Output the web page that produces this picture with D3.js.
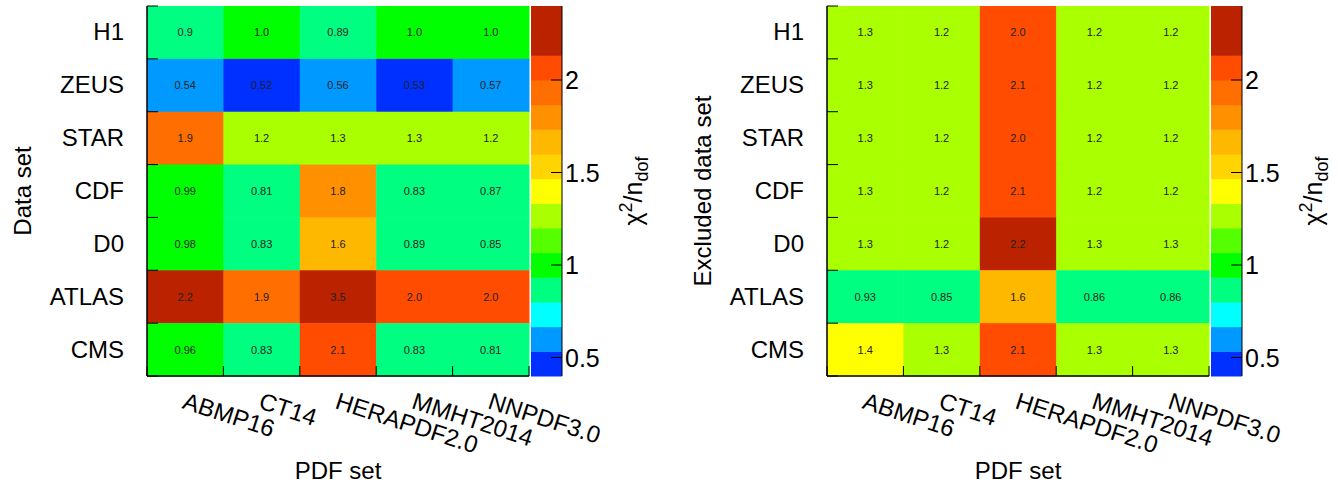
<!DOCTYPE html>
<html>
<head>
<meta charset="utf-8">
<script src="https://cdn.jsdelivr.net/npm/d3@7"></script>
<style>
  body { margin: 0; background: #fff; }
  svg text { font-family: "Liberation Sans", Arial, Helvetica, sans-serif; }
</style>
</head>
<body>
<svg id="chart" width="1339" height="485"></svg>
<script>
// ---- data ----
const dataSets = ["H1", "ZEUS", "STAR", "CDF", "D0", "ATLAS", "CMS"];
const pdfSets = ["ABMP16", "CT14", "HERAPDF2.0", "MMHT2014", "NNPDF3.0"];

// left panel: chi2/ndof per data set (rows) and PDF set (columns)
const chi2H1     = [0.9, 1.0, 0.89, 1.0, 1.0];
const chi2ZEUS   = [0.54, 0.52, 0.56, 0.53, 0.57];
const chi2STAR   = [1.9, 1.2, 1.3, 1.3, 1.2];
const chi2CDF    = [0.99, 0.81, 1.8, 0.83, 0.87];
const chi2D0     = [0.98, 0.83, 1.6, 0.89, 0.85];
const chi2ATLAS  = [2.2, 1.9, 3.5, 2.0, 2.0];
const chi2CMS    = [0.96, 0.83, 2.1, 0.83, 0.81];

// right panel: chi2/ndof with one data set excluded
const exclH1     = [1.3, 1.2, 2.0, 1.2, 1.2];
const exclZEUS   = [1.3, 1.2, 2.1, 1.2, 1.2];
const exclSTAR   = [1.3, 1.2, 2.0, 1.2, 1.2];
const exclCDF    = [1.3, 1.2, 2.1, 1.2, 1.2];
const exclD0     = [1.3, 1.2, 2.2, 1.3, 1.3];
const exclATLAS  = [0.93, 0.85, 1.6, 0.86, 0.86];
const exclCMS    = [1.4, 1.3, 2.1, 1.3, 1.3];

const colorbarTicks = [0.5, 1, 1.5, 2];
const zRange = [0.4, 2.4];
const palette = ["#0030ff", "#0099ff", "#00ffff", "#00ff80", "#00ff00",
                 "#55ff00", "#aaff00", "#ffff00", "#ffd400", "#ffb800",
                 "#ff9000", "#ff6e00", "#ff4c00", "#bb2200", "#bb2200"];

const leftMatrix = [chi2H1, chi2ZEUS, chi2STAR, chi2CDF, chi2D0, chi2ATLAS, chi2CMS];
const rightMatrix = [exclH1, exclZEUS, exclSTAR, exclCDF, exclD0, exclATLAS, exclCMS];

// ---- drawing ----
const svg = d3.select("#chart");
const nBands = palette.length;
const thresholds = d3.range(1, nBands).map(k => +(zRange[0] + k * (zRange[1] - zRange[0]) / nBands).toFixed(6));
const color = d3.scaleThreshold().domain(thresholds).range(palette);
const fmt = v => v >= 1 ? v.toFixed(1) : String(v);

function panel(opts) {
  const { x0, x1, y0, y1, matrix, yTitle, cbX, cbW, cbTitleX } = opts;
  const g = svg.append("g");
  const x = d3.scaleBand().domain(pdfSets).range([x0, x1]);
  const y = d3.scaleBand().domain(dataSets).range([y0, y1]);

  const cells = [];
  matrix.forEach((row, i) => row.forEach((v, j) => cells.push({ r: dataSets[i], c: pdfSets[j], v })));

  g.selectAll("rect.cell").data(cells).enter().append("rect")
    .attr("x", d => x(d.c)).attr("y", d => y(d.r))
    .attr("width", x.bandwidth() + 0.5).attr("height", y.bandwidth() + 0.5)
    .attr("fill", d => color(Math.min(d.v, zRange[1] - 1e-6)));

  g.selectAll("text.val").data(cells).enter().append("text")
    .attr("x", d => x(d.c) + x.bandwidth() / 2)
    .attr("y", d => y(d.r) + y.bandwidth() / 2 + 4)
    .attr("text-anchor", "middle").attr("font-size", 11).attr("fill", "#222")
    .text(d => fmt(d.v));

  // ticks on axes (inside frame)
  const yEdges = dataSets.map(d => y(d)).concat([y1]);
  g.selectAll("line.yt").data(yEdges).enter().append("line")
    .attr("x1", x0).attr("x2", x0 + 11).attr("y1", d => d).attr("y2", d => d)
    .attr("stroke", "#000").attr("stroke-width", 1);
  const xEdges = pdfSets.map(d => x(d)).concat([x1]);
  g.selectAll("line.xt").data(xEdges).enter().append("line")
    .attr("x1", d => d).attr("x2", d => d).attr("y1", y1).attr("y2", y1 - 10)
    .attr("stroke", "#000").attr("stroke-width", 1);
  // axis lines
  g.append("line").attr("x1", x0).attr("x2", x0).attr("y1", y0).attr("y2", y1)
    .attr("stroke", "#000").attr("stroke-width", 1.5);
  g.append("line").attr("x1", x0).attr("x2", x1).attr("y1", y1).attr("y2", y1)
    .attr("stroke", "#000").attr("stroke-width", 1.5);

  // y labels
  g.selectAll("text.yl").data(dataSets).enter().append("text")
    .attr("x", x0 - 23).attr("y", d => y(d) + y.bandwidth() / 2 + 8)
    .attr("text-anchor", "end").attr("font-size", 24).text(d => d);
  // x labels rotated
  g.selectAll("text.xl").data(pdfSets).enter().append("text")
    .attr("transform", d => `translate(${x(d) + x.bandwidth() / 2 - 4},${y1 + 32}) rotate(18)`)
    .attr("font-size", 24).text(d => d);

  g.append("text").attr("x", (x0 + x1) / 2).attr("y", 479)
    .attr("text-anchor", "middle").attr("font-size", 24).text("PDF set");
  g.append("text").attr("transform", `translate(${x0 - 116},${(y0 + y1) / 2}) rotate(-90)`)
    .attr("text-anchor", "middle").attr("font-size", 24).text(yTitle);

  // colour bar
  const z = d3.scaleLinear().domain(zRange).range([y1, y0]);
  const bands = palette.map((c, k) => ({ c, lo: zRange[0] + k * (zRange[1] - zRange[0]) / nBands, hi: zRange[0] + (k + 1) * (zRange[1] - zRange[0]) / nBands }));
  g.selectAll("rect.cb").data(bands).enter().append("rect")
    .attr("x", cbX).attr("width", cbW)
    .attr("y", d => z(d.hi)).attr("height", d => z(d.lo) - z(d.hi) + 0.5)
    .attr("fill", d => d.c);
  g.append("line").attr("x1", cbX + cbW).attr("x2", cbX + cbW).attr("y1", y0).attr("y2", y1)
    .attr("stroke", "#000").attr("stroke-width", 1);
  g.selectAll("line.cbt").data(colorbarTicks).enter().append("line")
    .attr("x1", cbX + cbW - 11).attr("x2", cbX + cbW).attr("y1", d => z(d)).attr("y2", d => z(d))
    .attr("stroke", "#000").attr("stroke-width", 1);
  g.selectAll("text.cbl").data(colorbarTicks).enter().append("text")
    .attr("x", cbX + cbW + 3).attr("y", d => z(d) + 9)
    .attr("font-size", 25).text(d => String(d));
  const t = g.append("text").attr("transform", `translate(${cbTitleX},${(y0 + y1) / 2}) rotate(-90)`)
    .attr("text-anchor", "middle").attr("font-size", 25);
  t.append("tspan").text("χ");
  t.append("tspan").attr("font-size", 18).attr("dy", -10).text("2");
  t.append("tspan").attr("dy", 10).text("/n");
  t.append("tspan").attr("font-size", 18).attr("dy", 6).text("dof");
}

panel({ x0: 147, x1: 529, y0: 6, y1: 376, matrix: leftMatrix, yTitle: "Data set", cbX: 531, cbW: 31, cbTitleX: 642 });
panel({ x0: 827, x1: 1209, y0: 6, y1: 376, matrix: rightMatrix, yTitle: "Excluded data set", cbX: 1211, cbW: 31, cbTitleX: 1322 });
</script>
</body>
</html>
